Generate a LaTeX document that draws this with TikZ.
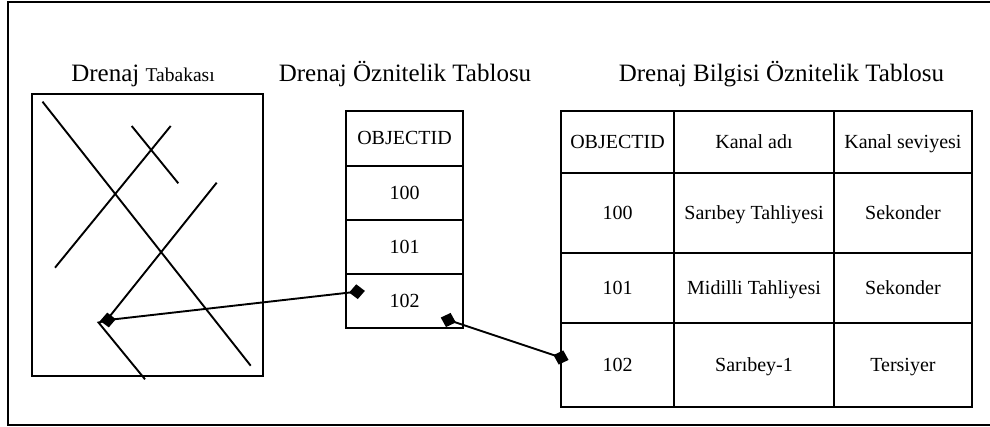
\documentclass[tikz,border=0pt]{standalone}
\usepackage{fontspec}
\setmainfont{Liberation Serif}
\usetikzlibrary{shapes.geometric}
\begin{document}
\begin{tikzpicture}[x=1pt,y=-1pt,
  frame/.style={line width=2pt},
  grid/.style={line width=2.2pt},
  stroke/.style={line width=1.9pt},
  conn/.style={line width=1.9pt},
  dia/.style={shape=diamond,fill=black,inner sep=0pt,minimum width=16pt,minimum height=15pt},
  ttl/.style={anchor=base,inner sep=0pt,font=\fontsize{25}{30}\selectfont},
  cell/.style={anchor=base,inner sep=0pt,font=\fontsize{20}{24}\selectfont}]
\useasboundingbox (0,0) rectangle (990,427);
% outer frame (right side lies beyond the picture)
\draw[frame] (995,2.3) -- (8.3,2.3) -- (8.3,425) -- (995,425);

% titles
\node[ttl] (t1) at (143,82) {Drenaj {\fontsize{19.5}{24}\selectfont Tabakası}};
\node[ttl] (t2) at (405,82) {Drenaj Öznitelik Tablosu};
\node[ttl] (t3) at (781.5,82) {Drenaj Bilgisi Öznitelik Tablosu};

% drainage layer
\draw[stroke] (32.3,94) rectangle (262.7,376);
\draw[stroke] (42.5,101.7) -- (250.7,365.7);
\draw[stroke] (131.7,126) -- (178.3,183.3);
\draw[stroke] (170.7,126) -- (55,267.7);
\draw[stroke] (216.7,182.7) -- (106,321);
\draw[stroke] (145,379.3) -- (98.5,322.5) -- (106,320.8);

% middle table
\draw[grid] (345.7,111) rectangle (463.3,328);
\draw[grid] (345.7,166) -- (463.3,166);
\draw[grid] (345.7,220) -- (463.3,220);
\draw[grid] (345.7,274) -- (463.3,274);
\node[cell] (m0) at (404.5,145) {OBJECTID};
\node[cell] (m1) at (404.5,200) {100};
\node[cell] (m2) at (404.5,254) {101};
\node[cell] (m3) at (404.5,308) {102};

% right table
\draw[grid] (560.7,111) rectangle (971.7,406.7);
\draw[grid] (560.7,173.3) -- (971.7,173.3);
\draw[grid] (560.7,253.3) -- (971.7,253.3);
\draw[grid] (560.7,322.7) -- (971.7,322.7);
\draw[grid] (674.3,111) -- (674.3,406.7);
\draw[grid] (834,111) -- (834,406.7);
\node[cell] (h1) at (617.5,149) {OBJECTID};
\node[cell] (h2) at (754,149) {Kanal adı};
\node[cell] (h3) at (902.9,149) {Kanal seviyesi};
\node[cell] (a1) at (617.5,220) {100};
\node[cell] (a2) at (754,220) {Sarıbey Tahliyesi};
\node[cell] (a3) at (902.9,220) {Sekonder};
\node[cell] (b1) at (617.5,294.7) {101};
\node[cell] (b2) at (754,294.7) {Midilli Tahliyesi};
\node[cell] (b3) at (902.9,294.7) {Sekonder};
\node[cell] (c1) at (617.5,371.5) {102};
\node[cell] (c2) at (754,371.5) {Sarıbey-1};
\node[cell] (c3) at (902.9,371.5) {Tersiyer};

% connectors with diamond ends
\node[dia,rotate=6] (d1) at (108,320) {};
\node[dia,rotate=6] (d2) at (357,291.7) {};
\node[dia,rotate=-18] (d3) at (448.3,320) {};
\node[dia,rotate=-18] (d4) at (561,357.5) {};
\draw[conn] (d1.center) -- (d2.center);
\draw[conn] (d3.center) -- (d4.center);
\end{tikzpicture}
\end{document}
